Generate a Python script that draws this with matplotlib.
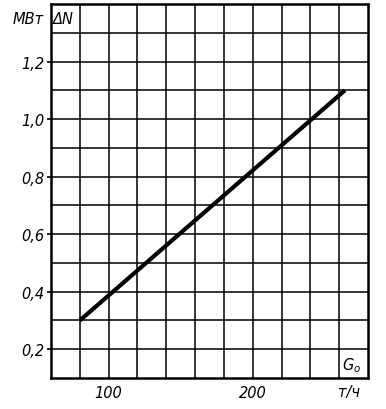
import matplotlib
matplotlib.use("Agg")
import matplotlib.pyplot as plt
import numpy as np

# Data
x_vals = [80, 264]
y_vals = [0.3, 1.1]
x_ticks = [100, 200]
x_tick_labels = ["100", "200"]
y_ticks = [0.2, 0.4, 0.6, 0.8, 1.0, 1.2]
y_tick_labels = ["0,2", "0,4", "0,6", "0,8", "1,0", "1,2"]
x_grid = list(range(60, 281, 20))
y_grid = [round(0.1 * i, 1) for i in range(1, 15)]

fam = ["Liberation Sans Narrow", "DejaVu Sans"]
plt.rcParams['font.family'] = fam

fig = plt.figure(figsize=(3.86, 4.10), dpi=100)
ax = fig.add_axes([0.1321, 0.0756, 0.8213, 0.9122])
ax.set_xlim(60, 280)
ax.set_ylim(0.1, 1.4)

for gx in x_grid[1:-1]:
    ax.axvline(gx, color="black", lw=1.1, zorder=1)
for gy in y_grid[1:-1]:
    ax.axhline(gy, color="black", lw=1.1, zorder=1)

ax.plot(x_vals, y_vals, color="black", lw=3.0, solid_capstyle="butt", zorder=3)

for s in ax.spines.values():
    s.set_linewidth(1.8)
    s.set_color("black")

ax.set_xticks(x_ticks)
ax.set_xticklabels(x_tick_labels, fontstyle="italic", fontsize=10.5)
ax.set_yticks(y_ticks)
ax.set_yticklabels(y_tick_labels, fontstyle="italic", fontsize=10.5)
ax.tick_params(axis="both", direction="out", length=3, width=1.2, pad=2)
ax.tick_params(axis="x", length=0, pad=5)

fig.text(28 / 386, 1 - 20 / 410, "МВт", fontsize=10.5, fontstyle="italic",
         ha="center", va="center")
fig.text(63 / 386, 1 - 20 / 410, "ΔN", fontsize=10.5, fontstyle="italic",
         ha="center", va="center")
fig.text(352 / 386, 1 - 366 / 410, "G$_{o}$", fontsize=10.5, fontstyle="italic",
         ha="center", va="center")
fig.text(349 / 386, 1 - 393 / 410, "т/ч", fontsize=10.5, fontstyle="italic",
         ha="center", va="center")

fig.savefig("out.png", dpi=100)
